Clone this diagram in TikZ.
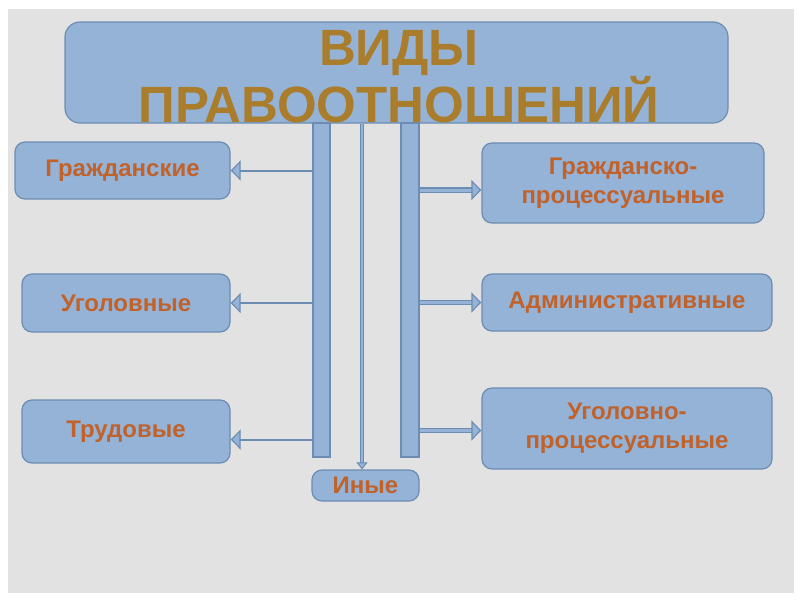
\documentclass[tikz,border=0pt]{standalone}
\usepackage{fontspec}
\setmainfont{Liberation Sans}
\usetikzlibrary{arrows.meta}
\definecolor{boxfill}{RGB}{149,179,215}
\definecolor{boxedge}{RGB}{108,140,178}
\definecolor{boxtext}{RGB}{192,98,42}
\definecolor{titletext}{RGB}{170,125,45}
\definecolor{slidebg}{RGB}{226,226,226}
\begin{document}
\begin{tikzpicture}[x=1pt,y=-1pt,
    kind/.style={draw=boxedge, fill=boxfill, line width=1.2pt, rounded corners=10pt,
      inner sep=0pt, align=center, text=boxtext,
      font=\fontsize{24}{29}\selectfont\bfseries},
    bar/.style={draw=boxedge, fill=boxfill, line width=1.2pt, inner sep=0pt,
      minimum width=17pt, minimum height=334pt}]
  \fill[white] (0,0) rectangle (800,600);
  \fill[slidebg] (8,9) rectangle (794,593);
  \useasboundingbox (0,0) rectangle (800,600);
  % heading
  \node[kind, rounded corners=15pt, minimum width=663pt, minimum height=101pt] (title) at (396.5,72.5) {};
  \node[bar] (lbar) at (321.5,290) {};
  \node[bar, minimum width=18pt] (rbar) at (410,290) {};
  \node[font=\fontsize{51}{56}\selectfont\bfseries, text=titletext, align=center] (titlename) at (399,77) {ВИДЫ\\ПРАВООТНОШЕНИЙ};
  \coordinate (drop) at (362,0);
  % kinds
  \begin{scope}[every node/.style={kind}]
    \node[minimum width=215pt, minimum height=57pt] (civil) at (122.5,170.5) {Гражданские};
    \node[minimum width=208pt, minimum height=58pt] (criminal) at (126,303) {Уголовные};
    \node[minimum width=208pt, minimum height=63pt] (labour) at (126,431.5) {Трудовые};
    \node[minimum width=282pt, minimum height=80pt] (civproc) at (623,183) {Гражданско-\\процессуальные};
    \node[minimum width=290pt, minimum height=57pt] (admin) at (627,302.5) {Административные};
    \node[minimum width=290pt, minimum height=81pt] (crimproc) at (627,428.5) {Уголовно-\\процессуальные};
    \node[minimum width=107pt, minimum height=31pt] (other) at (365.5,485.5) {Иные};
  \end{scope}
  \begin{scope}[every edge/.style={draw=boxedge, line width=2pt,
      -{Triangle[length=10pt, width=20pt, fill=boxfill, line width=1.2pt]}}]
    \path (lbar.west |- civil.east) edge (civil.east);
    \path (lbar.west |- criminal.east) edge (criminal.east);
    \path ([yshift=-8pt]lbar.west |- labour.east) edge ([yshift=-8pt]labour.east);
  \end{scope}
  \begin{scope}[every edge/.style={draw=boxedge, line width=1.2pt, double=boxfill, double distance=3pt,
      -{Triangle[length=10pt, width=20pt, fill=boxfill, line width=1.2pt]}}]
    \path ([yshift=-7pt]rbar.east |- civproc.west) edge ([yshift=-7pt]civproc.west);
    \path (rbar.east |- admin.west) edge (admin.west);
    \path ([yshift=-2pt]rbar.east |- crimproc.west) edge ([yshift=-2pt]crimproc.west);
  \end{scope}
  \path (drop |- title.south) edge[draw=boxedge, line width=1pt, double=boxfill, double distance=2pt,
      -{Triangle[length=7pt, width=11pt, fill=boxfill, line width=1pt]}] (drop |- other.north);
\end{tikzpicture}
\end{document}
